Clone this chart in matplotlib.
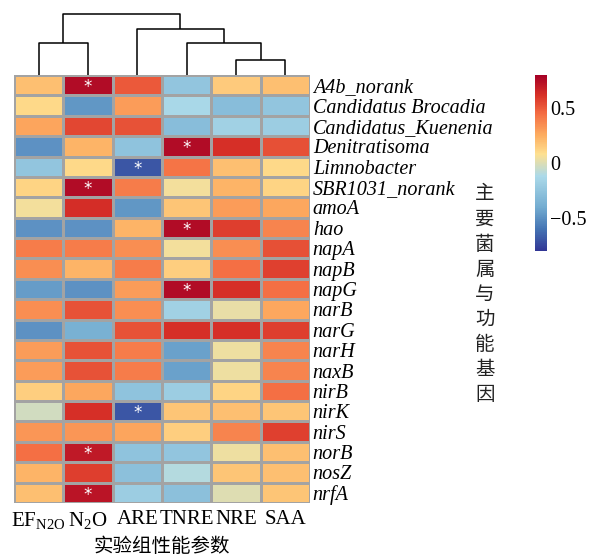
import numpy as np
import matplotlib
matplotlib.use("Agg")
import matplotlib.pyplot as plt
from matplotlib.colors import LinearSegmentedColormap

plt.rcParams['font.family'] = ['Liberation Serif', 'Noto Sans CJK SC', 'DejaVu Sans']
plt.rcParams['mathtext.fontset'] = 'custom'
plt.rcParams['mathtext.rm'] = 'Liberation Serif'
plt.rcParams['mathtext.it'] = 'Liberation Serif:italic'

# columns (performance parameters) in dendrogram leaf order
col_labels = [r'EF$_{\rm N2O}$', r'N$_2$O', 'ARE', 'TNRE', 'NRE', 'SAA']

row_labels = ['A4b_norank', 'Candidatus Brocadia', 'Candidatus_Kuenenia',
              'Denitratisoma', 'Limnobacter', 'SBR1031_norank', 'amoA', 'hao',
              'napA', 'napB', 'napG', 'narB', 'narG', 'narH', 'naxB', 'nirB',
              'nirK', 'nirS', 'norB', 'nosZ', 'nrfA']

# correlation values, one row per genus / gene (EF, N2O, ARE, TNRE, NRE, SAA)
corr = np.array([
    [0.19, 0.75, 0.50, -0.25, 0.15, 0.19],
    [0.10, -0.48, 0.30, -0.13, -0.30, -0.25],
    [0.28, 0.55, 0.52, -0.30, -0.17, -0.20],
    [-0.50, 0.23, -0.26, 0.75, 0.62, 0.53],
    [-0.25, 0.10, -0.70, 0.43, 0.19, 0.10],
    [0.12, 0.75, 0.40, 0.05, 0.23, 0.12],
    [0.05, 0.63, -0.48, 0.17, 0.30, 0.27],
    [-0.50, -0.50, 0.23, 0.75, 0.58, 0.38],
    [0.40, 0.40, 0.35, 0.05, 0.35, 0.53],
    [0.35, 0.23, 0.40, 0.14, 0.44, 0.57],
    [-0.46, -0.50, 0.30, 0.75, 0.62, 0.44],
    [0.35, 0.52, 0.35, -0.17, 0.03, 0.27],
    [-0.50, -0.37, 0.52, 0.62, 0.62, 0.58],
    [0.30, 0.52, 0.40, -0.44, 0.04, 0.38],
    [0.30, 0.52, 0.40, -0.44, 0.04, 0.38],
    [0.14, 0.27, -0.26, -0.20, 0.12, 0.44],
    [-0.03, 0.62, -0.70, 0.17, 0.19, 0.17],
    [0.32, 0.32, 0.28, 0.14, 0.38, 0.57],
    [0.44, 0.70, -0.26, -0.25, 0.04, 0.19],
    [0.23, 0.58, -0.28, -0.10, 0.17, 0.19],
    [0.19, 0.72, -0.20, -0.28, 0.00, 0.17],
])

# significant cells (row index, column index)
signif = [(0, 1), (3, 3), (4, 2), (5, 1), (7, 3), (10, 3), (16, 2), (18, 1), (20, 1)]

# column clustering: (left node, right node, height); new nodes numbered from 6
col_linkage = [(4, 5, 0.246), (3, 6, 0.525), (0, 1, 0.525), (2, 7, 0.754), (8, 9, 1.0)]

# colour scale anchors (value, colour)
vmin, vmax = -0.8, 0.8
anchors = [(-0.8, '#313695'), (-0.6, '#4575b4'), (-0.4, '#74add1'), (-0.12, '#abd9e9'),
           (0.08, '#fee090'), (0.25, '#fdae61'), (0.45, '#f46d43'), (0.62, '#d73027'),
           (0.8, '#a50026')]
cmap = LinearSegmentedColormap.from_list(
    'rdylbu', [((v - vmin) / (vmax - vmin), c) for v, c in anchors])

W, H = 592, 556
fig = plt.figure(figsize=(W / 100, H / 100), dpi=100)

hx0, hx1, hy0, hy1 = 14, 310, 75, 503
ax = fig.add_axes([hx0 / W, 1 - hy1 / H, (hx1 - hx0) / W, (hy1 - hy0) / H])
nr, nc = corr.shape
mesh = ax.pcolormesh(np.arange(nc + 1), np.arange(nr + 1), corr, cmap=cmap,
                     vmin=vmin, vmax=vmax, edgecolors='#a3a3a3', linewidth=1)
ax.set_xlim(0, nc)
ax.set_ylim(nr, 0)
for r, c in signif:
    ax.text(c + 0.5, r + 0.6, '*', color='white', ha='center', va='center', fontsize=12,
            family='DejaVu Sans')
ax.yaxis.tick_right()
ax.set_yticks(np.arange(nr) + 0.5)
ax.set_yticklabels(row_labels, fontsize=14.5, style='italic')
ax.set_xticks(np.arange(nc) + 0.5)
ax.set_xticklabels(col_labels, fontsize=15)
ax.tick_params(axis='y', length=0, pad=2)
ax.tick_params(axis='x', length=0, pad=5)
ax.set_xlabel('实验组性能参数', fontsize=14, family=['Noto Sans CJK SC'], labelpad=4)
for s in ax.spines.values():
    s.set_visible(False)

# dendrogram
dax = fig.add_axes([hx0 / W, 1 - hy0 / H, (hx1 - hx0) / W, 61.5 / H])
pos = {i: i + 0.5 for i in range(nc)}
hgt = {i: 0.0 for i in range(nc)}
for k, (a, b, h) in enumerate(col_linkage):
    xa, xb = pos[a], pos[b]
    dax.plot([xa, xa, xb, xb], [hgt[a], h, h, hgt[b]], color='black', lw=1.1,
             solid_capstyle='butt')
    pos[nc + k] = (xa + xb) / 2
    hgt[nc + k] = h
dax.set_xlim(0, nc)
dax.set_ylim(0, 1.0)
dax.axis('off')
for l in dax.lines:
    l.set_clip_on(False)

# colorbar
cax = fig.add_axes([535 / W, 1 - 251 / H, 12 / W, 176 / H])
cb = fig.colorbar(mesh, cax=cax, ticks=[-0.5, 0, 0.5])
cb.ax.set_yticklabels(['\u22120.5', '0', '0.5'], fontsize=14.5)
cb.outline.set_visible(False)
cb.ax.tick_params(length=0, pad=2)

fig.text(485 / W, 1 - 294 / H, '\n'.join('主要菌属与功能基因'), ha='center', va='center',
         fontsize=14, family=['Noto Sans CJK SC'], linespacing=1.25, color='#222222')

fig.savefig('out.png', dpi=100)
